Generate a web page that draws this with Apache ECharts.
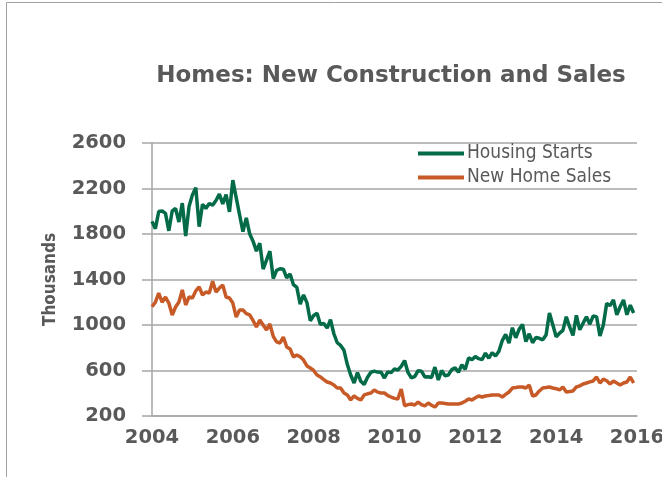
<!DOCTYPE html>
<html>
<head>
<meta charset="utf-8">
<script src="https://cdn.jsdelivr.net/npm/echarts@6/dist/echarts.min.js"></script>
<style>html,body{margin:0;padding:0;background:#fff}#c{width:662px;height:477px}</style>
</head>
<body>
<div id="c"></div>
<script>
// Monthly data, Jan 2004 .. Dec 2015 (thousands, SAAR)
const startYear = 2004;
const housingStarts = [
  1911, 1846, 1998, 2003, 1981, 1828, 2002, 2024, 1905, 2072, 1782, 2042,
  2144, 2207, 1864, 2061, 2025, 2068, 2054, 2095, 2151, 2065, 2147, 1994,
  2273, 2119, 1969, 1821, 1942, 1802, 1737, 1650, 1720, 1491, 1570, 1649,
  1409, 1480, 1495, 1490, 1415, 1448, 1354, 1330, 1183, 1264, 1197, 1037,
  1084, 1103, 1005, 1013, 973, 1046, 923, 844, 820, 777, 652, 560,
  490, 582, 505, 478, 540, 585, 594, 586, 585, 534, 588, 581,
  614, 604, 636, 687, 583, 536, 546, 599, 594, 543, 545, 539,
  630, 517, 600, 554, 561, 608, 623, 585, 650, 610, 711, 694,
  723, 704, 695, 753, 708, 757, 728, 770, 863, 917, 841, 976,
  888, 962, 1005, 854, 923, 844, 891, 883, 870, 912, 1105, 1003,
  897, 928, 953, 1073, 983, 909, 1085, 958, 1016, 1072, 1007, 1080,
  1071, 904, 1000, 1190, 1170, 1220, 1090, 1160, 1220, 1090, 1175, 1105
];
const newHomeSales = [
  1160, 1200, 1280, 1200, 1246, 1193, 1088, 1158, 1202, 1308, 1176, 1246,
  1237, 1300, 1334, 1264, 1290, 1281, 1385, 1290, 1325, 1351, 1246, 1237,
  1193, 1070, 1132, 1132, 1100, 1088, 1040, 983, 1044, 1000, 956, 1009,
  900, 851, 842, 894, 807, 789, 719, 736, 720, 692, 640, 622,
  600, 560, 543, 520, 499, 490, 473, 446, 446, 402, 385, 341,
  376, 355, 341, 385, 395, 402, 429, 410, 402, 402, 380, 367,
  355, 350, 437, 290, 300, 305, 297, 323, 300, 288, 314, 295,
  279, 314, 314, 310, 305, 305, 305, 305, 314, 330, 350, 341,
  360, 376, 367, 376, 380, 385, 385, 385, 367, 390, 411, 446,
  450, 455, 455, 446, 473, 376, 385, 420, 446, 450, 455, 446,
  440, 429, 455, 411, 415, 420, 455, 465, 481, 490, 500, 508,
  543, 490, 525, 510, 481, 508, 490, 473, 490, 499, 543, 490
];
const seriesNames = ['Housing Starts', 'New Home Sales'];
const yTicks = {min: 200, max: 2600, step: 400};
const xTicks = {min: 2004, max: 2016, step: 2};

const toPairs = arr => arr.map((v, i) => [startYear + i / 12, v]);

const FONT_C = '"DejaVu Sans Condensed", "DejaVu Sans", sans-serif';
const FONT = '"DejaVu Sans", sans-serif';
const TXT = '#595959';
const GRID = '#a6a6a6';

const chart = echarts.init(document.getElementById('c'), null, {renderer: 'canvas'});
chart.setOption({
  backgroundColor: '#fff',
  animation: false,
  title: {
    text: 'Homes: New Construction and Sales',
    left: 391, top: 65, textAlign: 'center', padding: 0,
    textStyle: {fontFamily: FONT, fontSize: 23, fontWeight: 'bold', color: TXT}
  },
  legend: {
    data: seriesNames,
    orient: 'vertical',
    left: 418, top: 144, padding: 0,
    icon: 'rect',
    itemWidth: 46, itemHeight: 4, itemGap: 5,
    textStyle: {fontFamily: FONT_C, fontSize: 19, color: TXT, padding: [0, 0, 0, -2]}
  },
  graphic: [{
    type: 'polyline', silent: true,
    shape: {points: [[6.5, 477], [6.5, 2.5], [662, 2.5]]},
    style: {stroke: '#a0a0a0', lineWidth: 1, fill: null}
  }],
  grid: {left: 152, right: 25, top: 143, bottom: 61, containLabel: false, outerBoundsMode: 'none'},
  xAxis: {
    type: 'value', min: xTicks.min, max: xTicks.max, interval: xTicks.step,
    axisLine: {show: true, lineStyle: {color: GRID, width: 1.5}},
    axisTick: {show: false},
    splitLine: {show: false},
    axisLabel: {fontFamily: FONT, fontSize: 19.5, fontWeight: 'bold', color: TXT, margin: 12,
      formatter: v => String(Math.round(v))}
  },
  yAxis: {
    type: 'value', min: yTicks.min, max: yTicks.max, interval: yTicks.step,
    name: 'Thousands', nameLocation: 'middle', nameGap: 93, nameRotate: 90,
    nameTextStyle: {fontFamily: FONT_C, fontSize: 17, fontWeight: 'bold', color: TXT},
    axisLine: {show: true, lineStyle: {color: GRID, width: 1.5}},
    axisTick: {show: true, length: 10, lineStyle: {color: GRID, width: 1.5}},
    splitLine: {show: true, lineStyle: {color: GRID, width: 1.5}},
    axisLabel: {fontFamily: FONT, fontSize: 19.5, fontWeight: 'bold', color: TXT, margin: 26,
      formatter: v => String(Math.round(v))}
  },
  series: [
    {name: seriesNames[0], type: 'line', data: toPairs(housingStarts), showSymbol: false,
     lineStyle: {color: '#036B47', width: 3.5}, itemStyle: {color: '#036B47'}},
    {name: seriesNames[1], type: 'line', data: toPairs(newHomeSales), showSymbol: false,
     lineStyle: {color: '#C85A27', width: 3.5}, itemStyle: {color: '#C85A27'}}
  ]
});
</script>
</body>
</html>
